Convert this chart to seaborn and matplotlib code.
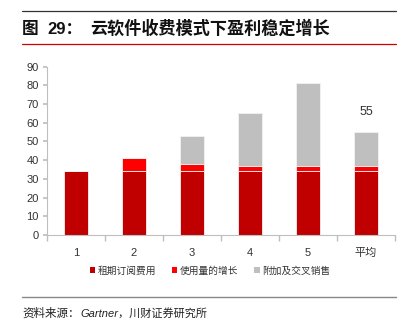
import matplotlib
matplotlib.use("Agg")
import matplotlib.pyplot as plt
import seaborn as sns
import pandas as pd
from matplotlib.lines import Line2D
from matplotlib.patches import Patch

categories = ["1", "2", "3", "4", "5", "平均"]
rent_sub = [34, 34, 34, 34, 34, 34]
usage_growth = [0, 7, 4, 3, 3, 3]
cross_sell = [0, 0, 15, 28, 44, 18]
series_names = ["租期订阅费用", "使用量的增长", "附加及交叉销售"]
colors = ["#C00000", "#FF0000", "#BFBFBF"]
avg_label = "55"

sns.set_theme(style="white")
plt.rcParams['font.family'] = ['Noto Sans CJK SC', 'DejaVu Sans']

fig = plt.figure(figsize=(4.08, 3.33), dpi=100)
ax = fig.add_axes([0.115, 0.294, 0.853, 0.506])

df = pd.DataFrame({"cat": categories, "rent": rent_sub, "usage": usage_growth, "cross": cross_sell})
b1 = df["rent"]
b2 = df["rent"] + df["usage"]
sns.barplot(data=df, x="cat", y="rent", color=colors[0], saturation=1, width=0.4,
            edgecolor="#f2f2f2", linewidth=0.6, ax=ax, order=categories)
sns.barplot(data=df, x="cat", y="usage", bottom=b1, color=colors[1], saturation=1, width=0.4,
            edgecolor="#f2f2f2", linewidth=0.6, ax=ax, order=categories)
sns.barplot(data=df, x="cat", y="cross", bottom=b2, color=colors[2], saturation=1, width=0.4,
            edgecolor="#f2f2f2", linewidth=0.6, ax=ax, order=categories)

total_avg = rent_sub[-1] + usage_growth[-1] + cross_sell[-1]
ax.text(len(categories) - 1, total_avg + 11, avg_label, ha="center", va="center",
        fontsize=9, color="#333333", family=['Liberation Sans', 'DejaVu Sans'])

ax.set_ylim(0, 90)
ax.set_yticks(range(0, 91, 10))
ax.set_xlim(-0.5, len(categories) - 0.5)
ax.set_xlabel("")
ax.set_ylabel("")
for s in ["top", "right"]:
    ax.spines[s].set_visible(False)
for s in ["left", "bottom"]:
    ax.spines[s].set_color("#BFBFBF")
    ax.spines[s].set_linewidth(0.8)
ax.tick_params(axis="y", which="major", length=3, color="#BFBFBF", labelsize=8, labelcolor="#333333", pad=3, direction="out", left=True)
ax.tick_params(axis="x", which="major", length=0, labelsize=8, labelcolor="#333333", pad=9)
ax.set_xticks([i - 0.5 for i in range(len(categories) + 1)], minor=True)
ax.tick_params(axis="x", which="minor", length=4, color="#BFBFBF", direction="out", bottom=True)
for lab in ax.get_yticklabels() + ax.get_xticklabels():
    lab.set_fontfamily(['Liberation Sans', 'Noto Sans CJK SC'])

handles = [Patch(facecolor=c, edgecolor="none") for c in colors]
fig.legend(handles, series_names, loc="center", bbox_to_anchor=(0.515, 0.188), ncol=3,
           frameon=False, fontsize=7, handlelength=0.55, handleheight=0.55, handletextpad=0.3,
           columnspacing=1.6, labelcolor="#333333")

# header lines and title
fig.add_artist(Line2D([22/408, 396/408], [1 - 11/333, 1 - 11/333], color="#333333", lw=0.9))
fig.add_artist(Line2D([22/408, 396/408], [1 - 44/333, 1 - 44/333], color="#D00000", lw=0.9))
fig.text(22/408, 1 - 29/333, "图", fontsize=12, fontweight="bold",
         va="center", ha="left", color="#111111")
fig.text(47/408, 1 - 29/333, "29：", fontsize=12, fontweight="bold",
         va="center", ha="left", color="#111111", family=['Liberation Sans', 'Noto Sans CJK SC'])
fig.text(90/408, 1 - 29/333, "云软件收费模式下盈利稳定增长", fontsize=12.3, fontweight="bold",
         va="center", ha="left", color="#111111")
fig.add_artist(Line2D([22/408, 396/408], [1 - 297/333, 1 - 297/333], color="#888888", lw=1.0))
fig.text(22/408, 1 - 313/333, "资料来源：", fontsize=8.3,
         va="center", ha="left", color="#222222")
fig.text(80/408, 1 - 313/333, "Gartner，川财证券研究所", fontsize=8, style="italic",
         va="center", ha="left", color="#222222", family=['Liberation Sans', 'Noto Sans CJK SC'])

fig.savefig("out.png", dpi=100)
